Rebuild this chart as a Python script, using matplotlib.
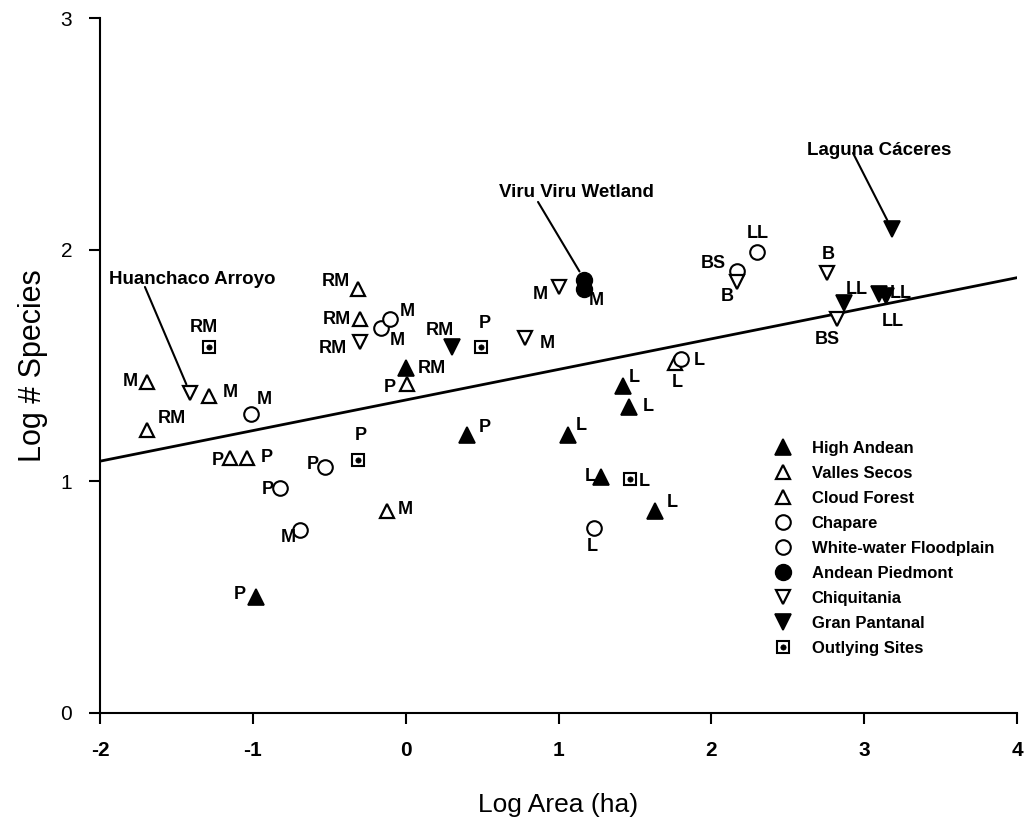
import numpy as np
import matplotlib
matplotlib.use("Agg")
import matplotlib.pyplot as plt
from matplotlib.lines import Line2D
from matplotlib.legend_handler import HandlerTuple

plt.rcParams["axes.unicode_minus"] = False

# ---- data: log10 wetland area (ha) vs log10 number of species ----
high_andean_x = [-0.98, 0.00, 0.40, 1.06, 1.42, 1.46, 1.28, 1.63]
high_andean_y = [0.50, 1.49, 1.20, 1.20, 1.41, 1.32, 1.02, 0.87]
high_andean_src = ["P", "RM", "P", "L", "L", "L", "L", "L"]

valles_secos_x = [-1.15, -1.04, 0.01, -0.12, 1.76]
valles_secos_y = [1.10, 1.10, 1.42, 0.87, 1.51]
valles_secos_src = ["P", "P", "P", "M", "L"]

cloud_forest_x = [-1.69, -1.69, -1.29, -0.31, -0.30]
cloud_forest_y = [1.43, 1.22, 1.37, 1.83, 1.70]
cloud_forest_src = ["M", "RM", "M", "RM", "RM"]

chapare_x = [-1.01, -0.16, -0.10, -0.53, -0.82, -0.69]
chapare_y = [1.29, 1.66, 1.70, 1.06, 0.97, 0.79]
chapare_src = ["M", "M", "M", "P", "P", "M"]

floodplain_x = [1.23, 1.80, 2.17, 2.30]
floodplain_y = [0.80, 1.53, 1.91, 1.99]
floodplain_src = ["L", "L", "BS", "LL"]

piedmont_x = [1.17, 1.17]
piedmont_y = [1.87, 1.83]
piedmont_src = ["", "M"]

chiquitania_x = [-1.41, -0.30, 1.00, 0.78, 2.17, 2.76, 2.82]
chiquitania_y = [1.38, 1.60, 1.84, 1.62, 1.86, 1.90, 1.70]
chiquitania_src = ["", "RM", "M", "M", "B", "B", "BS"]

pantanal_x = [0.30, 3.18, 2.87, 3.10, 3.14]
pantanal_y = [1.58, 2.09, 1.77, 1.81, 1.80]
pantanal_src = ["RM", "", "LL", "LL", "LL"]

outlying_x = [-1.29, -0.31, 0.49, 1.47]
outlying_y = [1.58, 1.09, 1.58, 1.01]
outlying_src = ["RM", "P", "P", "L"]

# species-area regression: log S = a + b log A
fit_intercept = 1.351
fit_slope = 0.132

# source-label offsets (pixels: right, down) for each point
high_andean_off = [(-16, -3), (26, 1), (18, -8), (14, -10), (12, -9), (19, -1), (-11, 0), (17, -9)]
valles_secos_off = [(-12, 2), (20, -1), (-17, 3), (18, -2), (3, 19)]
cloud_forest_off = [(-17, 0), (24, -12), (22, -3), (-22, -8), (-23, 0)]
chapare_off = [(13, -15), (16, 12), (17, -8), (-12, -3), (-13, 1), (-12, 8)]
floodplain_off = [(-1, 19), (18, 2), (-24, -7), (1, -18)]
piedmont_off = [(0, 0), (12, 11)]
chiquitania_off = [(0, 0), (-27, 6), (-18, 8), (22, 6), (-10, 14), (1, -18), (-9, 20)]
pantanal_off = [(-12, -16), (0, 0), (12, -13), (21, 0), (7, 26)]
outlying_off = [(-5, -19), (3, -25), (4, -23), (14, 2)]

NARROW = ["Liberation Sans Narrow", "Liberation Sans", "DejaVu Sans"]
SANS = ["Liberation Sans", "DejaVu Sans"]
label_font = dict(family=NARROW, weight="bold", fontsize=13, color="black")

fig = plt.figure(figsize=(10.24, 8.33), dpi=100)
ax = fig.add_axes([100 / 1024, 1 - 713 / 833, 917 / 1024, 695 / 833])

tri_filled = dict(marker="^", ms=11, mfc="black", mec="black", mew=1.2)
tri_open = dict(marker="^", ms=10.5, mfc="white", mec="black", mew=1.6)
circ_open = dict(marker="o", ms=10.5, mfc="white", mec="black", mew=1.5)
circ_filled = dict(marker="o", ms=11.5, mfc="black", mec="black", mew=1.0)
dtri_open = dict(marker="v", ms=10.5, mfc="white", mec="black", mew=1.6)
dtri_filled = dict(marker="v", ms=11.5, mfc="black", mec="black", mew=1.2)
sq_open = dict(marker="s", ms=8.5, mfc="white", mec="black", mew=1.5)
sq_dot = dict(marker="o", ms=3.8, mfc="black", mec="black", mew=0.5)


def draw_group(xs, ys, srcs, offs, style):
    ax.plot(xs, ys, linestyle="none", zorder=3, **style)
    for x, y, s, (dx, dy) in zip(xs, ys, srcs, offs):
        if s:
            ax.annotate(s, (x, y), xytext=(dx, -dy), textcoords="offset pixels",
                        ha="center", va="center", zorder=4, **label_font)


# regression line
line_x = np.array([-2.0, 4.0])
ax.plot(line_x, fit_intercept + fit_slope * line_x, color="black", lw=2.0, zorder=2)

draw_group(high_andean_x, high_andean_y, high_andean_src, high_andean_off, tri_filled)
draw_group(valles_secos_x, valles_secos_y, valles_secos_src, valles_secos_off, tri_open)
draw_group(cloud_forest_x, cloud_forest_y, cloud_forest_src, cloud_forest_off, tri_open)
draw_group(chapare_x, chapare_y, chapare_src, chapare_off, circ_open)
draw_group(floodplain_x, floodplain_y, floodplain_src, floodplain_off, circ_open)
draw_group(piedmont_x, piedmont_y, piedmont_src, piedmont_off, circ_filled)
draw_group(chiquitania_x, chiquitania_y, chiquitania_src, chiquitania_off, dtri_open)
draw_group(pantanal_x, pantanal_y, pantanal_src, pantanal_off, dtri_filled)
draw_group(outlying_x, outlying_y, outlying_src, outlying_off, sq_open)
ax.plot(outlying_x, outlying_y, linestyle="none", zorder=3.5, **sq_dot)

# named sites: caption plus leader line down to the site's marker
callout_font = dict(family=NARROW, weight="bold", fontsize=13.5, color="black")
leader = dict(arrowstyle="-", color="black", lw=1.5, shrinkA=0, shrinkB=7)

ax.text(-1.395, 1.87, "Huanchaco Arroyo", ha="center", va="center", **callout_font)
ax.annotate("", xy=(chiquitania_x[0], chiquitania_y[0]), xytext=(-1.706, 1.839),
            arrowprops=leader)

ax.text(1.115, 2.245, "Viru Viru Wetland", ha="center", va="center", **callout_font)
ax.annotate("", xy=(piedmont_x[0], piedmont_y[0]), xytext=(0.866, 2.206),
            arrowprops=leader)

ax.text(3.097, 2.43, "Laguna Cáceres", ha="center", va="center", **callout_font)
ax.annotate("", xy=(pantanal_x[1], pantanal_y[1]), xytext=(2.927, 2.417),
            arrowprops=leader)

# legend
handles = [
    Line2D([], [], linestyle="none", **tri_filled),
    Line2D([], [], linestyle="none", **tri_open),
    Line2D([], [], linestyle="none", **tri_open),
    Line2D([], [], linestyle="none", **circ_open),
    Line2D([], [], linestyle="none", **circ_open),
    Line2D([], [], linestyle="none", **circ_filled),
    Line2D([], [], linestyle="none", **dtri_open),
    Line2D([], [], linestyle="none", **dtri_filled),
    (Line2D([], [], linestyle="none", **sq_open), Line2D([], [], linestyle="none", **sq_dot)),
]
names = ["High Andean", "Valles Secos", "Cloud Forest", "Chapare",
         "White-water Floodplain", "Andean Piedmont", "Chiquitania",
         "Gran Pantanal", "Outlying Sites"]
ax.legend(handles, names, loc="upper left", bbox_to_anchor=(0.736, 0.392),
          frameon=False, handlelength=1.0, handletextpad=1.2, labelspacing=0.6,
          borderpad=0, borderaxespad=0,
          prop=dict(family=NARROW, weight="bold", size=12),
          handler_map={tuple: HandlerTuple(ndivide=1)})

# axes
ax.set_xlim(-2, 4)
ax.set_ylim(0, 3)
ax.set_xticks(range(-2, 5))
ax.set_yticks(range(0, 4))
for side in ("top", "right"):
    ax.spines[side].set_visible(False)
for side in ("left", "bottom"):
    ax.spines[side].set_linewidth(1.5)
ax.tick_params(axis="both", direction="out", length=8, width=1.5, pad=12)
for t in ax.get_xticklabels():
    t.set_fontfamily(SANS)
    t.set_fontweight("bold")
    t.set_fontsize(15)
for t in ax.get_yticklabels():
    t.set_fontfamily(SANS)
    t.set_fontsize(15)

ax.set_xlabel("Log Area (ha)", fontsize=19, family=SANS, labelpad=24)
ax.set_ylabel("Log # Species", fontsize=22, family=SANS, labelpad=9)

fig.savefig("out.png", dpi=100)
